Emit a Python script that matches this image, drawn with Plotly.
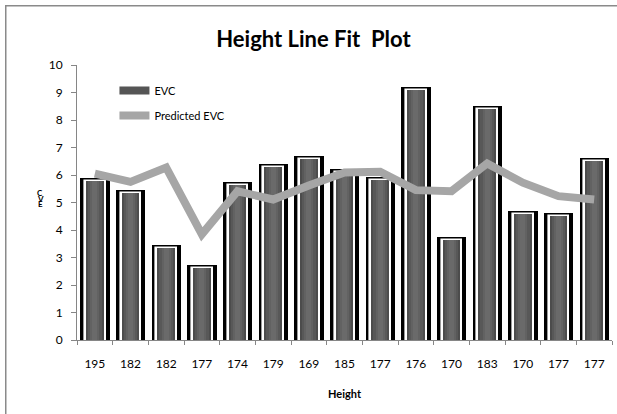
import plotly.graph_objects as go

# Height categories (x axis) and EVC values
heights = ["195", "182", "182", "177", "174", "179", "169", "185",
           "177", "176", "170", "183", "170", "177", "177"]
evc = [5.77, 5.35, 3.35, 2.62, 5.63, 6.28, 6.57, 6.10,
       5.82, 9.09, 3.64, 8.40, 4.57, 4.50, 6.50]
predicted_evc = [6.05, 5.75, 6.27, 3.84, 5.41, 5.11, 5.62, 6.09,
                 6.12, 5.45, 5.41, 6.42, 5.72, 5.23, 5.11]
y_ticks = list(range(0, 11))

FONT = "Lato"
pos = list(range(len(heights)))

fig = go.Figure()

# Legend entry for the bar series (drawn as a wide swatch)
fig.add_trace(go.Scatter(
    x=[None], y=[None], mode="lines", name="EVC", legendgroup="evc",
    line=dict(color="#555555", width=8),
))

# Black frame behind each bar
fig.add_trace(go.Bar(
    x=pos, y=evc, width=0.68, offset=-0.32, showlegend=False, legendgroup="evc",
    marker=dict(color="#000000", line=dict(color="#000000", width=5)),
    hoverinfo="skip",
))
# White inner border
fig.add_trace(go.Bar(
    x=pos, y=evc, width=0.56, showlegend=False, legendgroup="evc",
    marker=dict(color="#ffffff", line=dict(color="#ffffff", width=2.6)),
    hoverinfo="skip",
))
# Cylinder-like grey fill, built from nested layers
for w, c in [(0.49, "#4c4c4c"), (0.38, "#585858"), (0.26, "#626262"), (0.14, "#6a6a6a")]:
    fig.add_trace(go.Bar(
        x=pos, y=evc, width=w, showlegend=False, legendgroup="evc",
        marker=dict(color=c, line=dict(width=0)),
        name="EVC",
    ))

# Fitted line
fig.add_trace(go.Scatter(
    x=pos, y=predicted_evc, mode="lines", name="Predicted EVC",
    line=dict(color="#a6a6a6", width=8), legendgroup="pred",
))

axis_grey = "#868686"

fig.update_layout(
    width=617, height=414,
    margin=dict(l=77, r=5, t=65, b=74),
    paper_bgcolor="#ffffff", plot_bgcolor="#ffffff",
    barmode="overlay", bargap=0,
    font=dict(family=FONT, color="#000000", size=12),
    title=dict(
        text="Height Line Fit \u00a0Plot", x=0.508, xref="container",
        y=0.905, yref="container", xanchor="center", yanchor="middle",
        font=dict(family=FONT, size=22, color="#000000", weight="bold"),
    ),
    showlegend=True,
    legend=dict(
        x=0.07, y=0.96, xanchor="left", yanchor="top",
        bgcolor="rgba(0,0,0,0)", itemwidth=30, tracegroupgap=6,
        font=dict(family=FONT, size=11, color="#000000"),
    ),
    xaxis=dict(
        range=[-0.5, len(heights) - 0.5],
        tickmode="array", tickvals=pos, ticktext=heights,
        ticks="", ticklabelstandoff=13,
        showline=True, linecolor=axis_grey, linewidth=1,
        showgrid=False, zeroline=False,
        tickfont=dict(family=FONT, size=12, color="#000000"),
        minor=dict(tickmode="array", tickvals=[p - 0.5 for p in pos] + [len(heights) - 0.5],
                   ticks="outside", ticklen=4, tickcolor=axis_grey, showgrid=False),
    ),
    yaxis=dict(
        range=[0, 10], tickmode="array", tickvals=y_ticks,
        ticks="outside", ticklen=5, tickcolor=axis_grey, ticklabelstandoff=6,
        showline=True, linecolor=axis_grey, linewidth=1,
        showgrid=False, zeroline=False,
        tickfont=dict(family=FONT, size=12, color="#000000"),
    ),
)

# Chart-area frame: a large empty bordered box whose right and bottom
# edges fall past the page, leaving only the left and top edges visible
fig.add_annotation(
    text=" ", xref="paper", yref="paper", x=-0.1345, y=1.218,
    xanchor="left", yanchor="top", showarrow=False,
    width=900, height=700, borderpad=0, borderwidth=1.5,
    bordercolor="#8a8a8a", bgcolor="rgba(0,0,0,0)",
)

# Axis titles
fig.add_annotation(
    text="Height", xref="paper", yref="paper", x=0.5, y=-0.196,
    xanchor="center", yanchor="middle", showarrow=False,
    font=dict(family=FONT, size=11, color="#000000", weight="bold"),
)
for letter, ypos in [("C", 0.535), ("V", 0.513), ("E", 0.493)]:
    fig.add_annotation(
        text=letter, xref="paper", yref="paper", x=-0.069, y=ypos,
        xanchor="center", yanchor="middle", showarrow=False,
        font=dict(family=FONT, size=8, color="#000000", weight="bold"),
    )

fig.write_html("out.html", config={"displayModeBar": False})
